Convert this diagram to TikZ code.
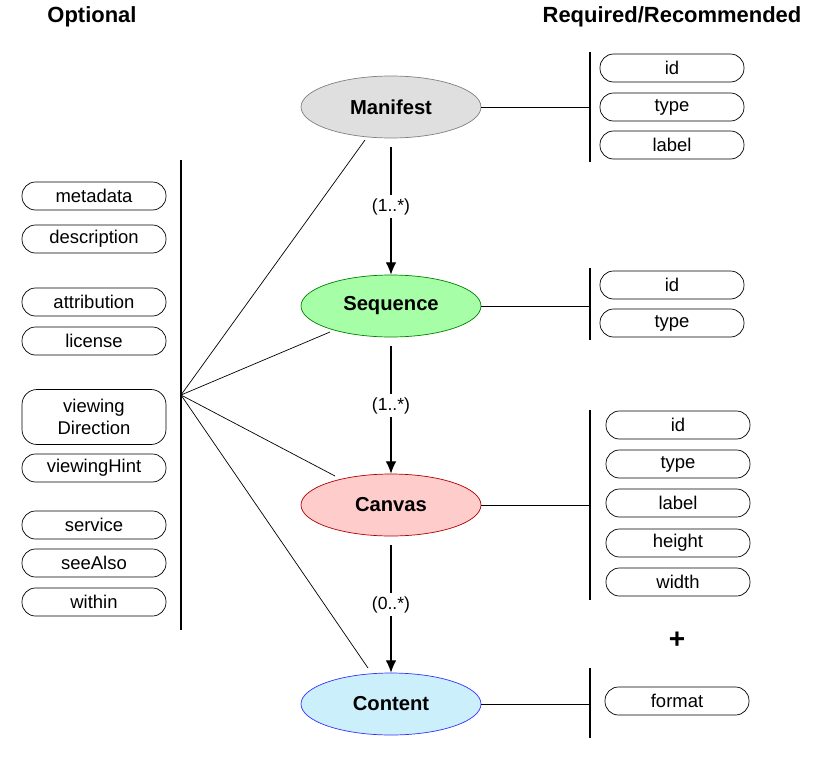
\documentclass[tikz,border=0pt]{standalone}
\usepackage{fontspec}
\setmainfont{Liberation Sans}
\usetikzlibrary{shapes.geometric,arrows.meta}

\tikzset{
  cls/.style={ellipse, draw, thin, minimum width=3.6cm, minimum height=1.24cm, font=\bfseries\fontsize{11.5}{13}\selectfont},
  prop/.style={draw, rounded corners=0.27cm, minimum width=2.88cm, minimum height=0.56cm, inner sep=1pt, font=\fontsize{10.5}{12.5}\selectfont, align=center},
  bar/.style={line width=1.6pt},
  card/.style={fill=white, font=\fontsize{10}{12}\selectfont, inner sep=2pt},
  mult/.style={-{Latex[length=7pt,width=6pt]}, semithick, shorten <=5pt},
  head/.style={font=\bfseries\fontsize{12.5}{14}\selectfont}
}

\begin{document}
\begin{tikzpicture}[x=0.02cm, y=-0.02cm]
            \useasboundingbox (0, 0) rectangle (822, 768);
            % headings
            \node[head] (opt) at (92, 17) {Optional};
            \node[head] (req) at (672, 17) {Required/Recommended};
            % classes
            \node[cls, fill=gray!25, draw=gray] (manifest) at (391, 107) {Manifest};
            \node[cls, fill=green!35, draw=green!50!black] (sequence) at (391, 306) {Sequence};
            \node[cls, fill=red!20, draw=red!70!black] (canvas) at (391, 505) {Canvas};
            \node[cls, fill=cyan!20, draw=blue!80] (content) at (391, 704) {Content};
            % cardinalities
            \draw[mult] (manifest) -- node[card] {(1..*)} (sequence);
            \draw[mult] (sequence) -- node[card] {(1..*)} (canvas);
            \draw[mult] (canvas) -- node[card] {(0..*)} (content);
            % required bars
            \coordinate (mtop) at (590, 52);   \coordinate (mbot) at (590, 162);
            \coordinate (stop) at (590, 268);  \coordinate (sbot) at (590, 340);
            \coordinate (ctop) at (590, 410);  \coordinate (cbot) at (590, 600);
            \coordinate (ntop) at (590, 668);  \coordinate (nbot) at (590, 738);
            \draw[bar] (mtop) -- (mbot);
            \draw[bar] (stop) -- (sbot);
            \draw[bar] (ctop) -- (cbot);
            \draw[bar] (ntop) -- (nbot);
            \draw (manifest.east) -- (590, 107);
            \draw (sequence.east) -- (590, 306);
            \draw (canvas.east) -- (590, 505);
            \draw (content.east) -- (590, 704);
            % required properties
            \node[prop] (mid) at (672, 68) {id};
            \node[prop] (mtype) at (672, 107) {type};
            \node[prop] (mlabel) at (672, 145) {label};
            \node[prop] (sid) at (672, 285) {id};
            \node[prop] (stype) at (672, 323) {type};
            \foreach \p/\y in {id/425, type/464, label/503, height/543, width/582}
              \node[prop] (c\p) at (678, \y) {\p};
            \node[font=\bfseries\fontsize{16}{18}\selectfont] (plus) at (677, 640) {+};
            \node[prop] (format) at (677, 701) {format};
            % optional properties
            \coordinate (otop) at (181, 160);  \coordinate (obot) at (181, 630);
            \coordinate (hub) at (181, 395);
            \draw[bar] (otop) -- (obot);
            \foreach \p/\y in {metadata/196, description/239, attribution/302, license/341, viewingHint/468, service/525, seeAlso/563, within/602}
              \node[prop] (o\p) at (94, \y) {\p};
            \node[prop, minimum height=1.1cm, rounded corners=0.3cm] (oviewingDirection) at (94, 417) {viewing\\Direction};
            \draw (hub) -- (365, 140);
            \draw (hub) -- (330, 332);
            \draw (hub) -- (335, 476);
            \draw (hub) -- (368, 668);
\end{tikzpicture}
\end{document}
